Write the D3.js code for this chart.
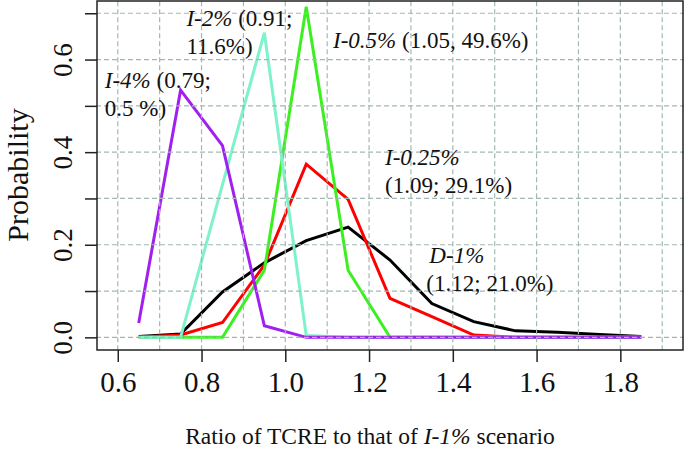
<!DOCTYPE html>
<html>
<head>
<meta charset="utf-8">
<script src="https://cdn.jsdelivr.net/npm/d3@7"></script>
<style>
  body { margin: 0; background: #fff; }
  svg { font-family: "Liberation Serif", "Times New Roman", serif; }
</style>
</head>
<body>
<div id="chart"></div>
<script>
// ratio bins (centres)
const ratios = [0.65, 0.75, 0.85, 0.95, 1.05, 1.15, 1.25, 1.35, 1.45, 1.55, 1.65, 1.75, 1.85];

// probability per bin, one array per scenario
const d1 = [0.002, 0.007, 0.098, 0.161, 0.209, 0.238, 0.167, 0.073, 0.034, 0.014, 0.011, 0.006, 0.002];
const i025 = [0, 0.005, 0.032, 0.156, 0.374, 0.298, 0.084, 0.045, 0.005, 0, 0, 0, 0];
const i05 = [0, 0, 0, 0.145, 0.714, 0.145, 0, 0, 0, 0, 0, 0, 0];
const i2 = [0, 0, 0.33, 0.658, 0.004, 0, 0, 0, 0, 0, 0, 0, 0];
const i4 = [0.031, 0.534, 0.414, 0.025, 0, 0, 0, 0, 0, 0, 0, 0, 0];

const xTicks = [0.6, 0.8, 1.0, 1.2, 1.4, 1.6, 1.8];
const yTicks = [0, 0.1, 0.2, 0.3, 0.4, 0.5, 0.6, 0.7];
const xGrid = [0.6, 0.7, 0.8, 0.9, 1.0, 1.1, 1.2, 1.3, 1.4, 1.5, 1.6, 1.7, 1.8, 1.9];

const series = [
  { name: "D-1%", values: d1, color: "#000000" },
  { name: "I-0.25%", values: i025, color: "#ff0000" },
  { name: "I-0.5%", values: i05, color: "#3cf020" },
  { name: "I-2%", values: i2, color: "#7ff2cc" },
  { name: "I-4%", values: i4, color: "#a020f0" }
];

// annotations: italic part + plain part, per line
const notes = [
  { x: 0.764, y: 0.672, lines: [["I-2%", " (0.91;"], ["", "11.6%)"]] },
  { x: 0.569, y: 0.538, lines: [["I-4%", " (0.79;"], ["", "0.5 %)"]] },
  { x: 1.114, y: 0.624, lines: [["I-0.5%", " (1.05, 49.6%)"]] },
  { x: 1.238, y: 0.372, lines: [["I-0.25%", ""], ["", "(1.09; 29.1%)"]] },
  { x: 1.344, y: 0.16, lines: [["D-1%", ""], ["", "(1.12; 21.0%)"]], dx: [0, -3] }
];

const W = 685, H = 453;
const svg = d3.select("#chart").append("svg")
  .attr("width", W)
  .attr("height", H);

const x = d3.scaleLinear().domain([0.548, 1.952]).range([96, 684]);
const y = d3.scaleLinear().domain([-0.028, 0.728]).range([350.3, 0.3]);

// lines
const line = d3.line()
  .x((d, i) => x(ratios[i]))
  .y(d => y(d));

series.forEach(s => {
  svg.append("path")
    .datum(s.values)
    .attr("fill", "none")
    .attr("stroke", s.color)
    .attr("stroke-width", 3)
    .attr("stroke-linejoin", "miter")
    .attr("d", line);
});

// dashed grid drawn on top, as in the original
const grid = svg.append("g")
  .attr("stroke", "#a3b8b3")
  .attr("stroke-width", 1.2)
  .attr("stroke-dasharray", "5,3");

grid.selectAll(".gv").data(xGrid).join("line")
  .attr("x1", d => x(d)).attr("x2", d => x(d))
  .attr("y1", y.range()[0]).attr("y2", y.range()[1]);

grid.selectAll(".gh").data(yTicks).join("line")
  .attr("y1", d => y(d)).attr("y2", d => y(d))
  .attr("x1", x.range()[0]).attr("x2", x.range()[1]);

// box
svg.append("rect")
  .attr("x", 97).attr("y", 1)
  .attr("width", 586).attr("height", 349)
  .attr("fill", "none")
  .attr("stroke", "#222")
  .attr("stroke-width", 1.5);

// x axis
const xAxis = svg.append("g")
  .attr("transform", "translate(0,350)")
  .call(d3.axisBottom(x).tickValues(xTicks).tickSize(12).tickFormat(d3.format(".1f")));
xAxis.select(".domain").remove();
xAxis.selectAll("line").attr("stroke", "#222").attr("stroke-width", 1.5);
xAxis.selectAll("text")
  .attr("y", 42).attr("dy", 0)
  .style("font-size", "29px")
  .style("font-family", "Liberation Serif")
  .attr("fill", "#111");

// y axis
const yAxis = svg.append("g")
  .attr("transform", "translate(97,0)")
  .call(d3.axisLeft(y).tickValues(yTicks).tickSize(12)
    .tickFormat(d => (Math.round(d * 10) % 2 === 0 ? d3.format(".1f")(d) : "")));
yAxis.select(".domain").remove();
yAxis.selectAll("line").attr("stroke", "#222").attr("stroke-width", 1.5);
yAxis.selectAll("text")
  .attr("x", 0).attr("y", -25).attr("dy", 0)
  .attr("text-anchor", "middle")
  .attr("transform", "rotate(-90)")
  .style("font-size", "27px")
  .style("font-family", "Liberation Serif")
  .attr("fill", "#111");

// axis titles
svg.append("text")
  .attr("transform", "translate(28,175) rotate(-90)")
  .attr("text-anchor", "middle")
  .style("font-size", "30px")
  .attr("fill", "#111")
  .text("Probability");

const xt = svg.append("text")
  .attr("x", 370).attr("y", 444)
  .attr("text-anchor", "middle")
  .style("font-size", "23.5px")
  .attr("fill", "#111");
xt.append("tspan").text("Ratio of TCRE to that of ");
xt.append("tspan").style("font-style", "italic").text("I-1%");
xt.append("tspan").text(" scenario");

// annotations
notes.forEach(n => {
  n.lines.forEach((ln, i) => {
    const t = svg.append("text")
      .attr("x", x(n.x) + (n.dx ? n.dx[i] : 0))
      .attr("y", y(n.y) + i * 28)
      .style("font-size", "23px")
      .attr("fill", "#111");
    if (ln[0]) t.append("tspan").style("font-style", "italic").text(ln[0]);
    if (ln[1]) t.append("tspan").text(ln[1]);
  });
});
</script>
</body>
</html>
